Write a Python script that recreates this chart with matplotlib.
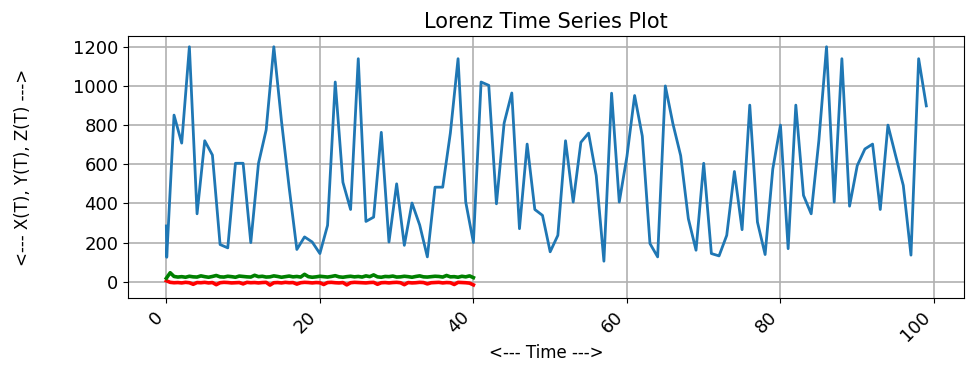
import numpy as np
import matplotlib
matplotlib.use("Agg")
import matplotlib.pyplot as plt

# Blue series (time, value)
blue_t = [0, 0.05] + list(range(1, 100))
blue_v = [285, 125, 851, 708, 1200, 347, 720, 647, 190, 173,
          605, 605, 200, 604, 775, 1200, 820, 480, 165, 229,
          203, 144, 288, 1020, 508, 369, 1139, 308, 330, 763,
          203, 500, 186, 402, 290, 127, 483, 483, 760, 1139,
          407, 200, 1020, 1003, 398, 810, 964, 271, 703, 369,
          339, 153, 237, 720, 407, 712, 759, 542, 105, 963,
          407, 640, 951, 744, 195, 127, 1000, 805, 644, 322,
          161, 605, 144, 132, 237, 563, 266, 902, 305, 139,
          576, 800, 169, 902, 441, 347, 720, 1200, 407, 1139,
          386, 593, 678, 703, 369, 800, 644, 492, 136, 1139, 898]

green_v = [18, 46, 27, 24, 26, 23, 28, 25, 24, 30, 26, 23, 27, 32, 25, 24, 28,
           26, 23, 29, 27, 25, 24, 33, 26, 28, 24, 25, 30, 27, 23, 26, 29, 25,
           27, 24, 38, 26, 23, 25, 28, 26, 24, 27, 31, 25, 23, 26, 28, 25, 27,
           24, 30, 26, 35, 25, 23, 27, 26, 29, 24, 25, 28, 26, 23, 27, 30, 25,
           24, 26, 28, 27, 24, 32, 25, 26, 23, 28, 25, 30, 21]
red_v = [5, -3, -5, -4, -6, -3, -5, -13, -4, -5, -3, -6, -4, -15, -5, -3, -4,
         -6, -5, -4, -11, -3, -5, -4, -6, -4, -3, -17, -5, -4, -6, -3, -5, -4,
         -12, -5, -3, -4, -6, -4, -5, -14, -4, -3, -5, -6, -4, -16, -5, -3, -4,
         -5, -6, -4, -3, -13, -5, -4, -6, -4, -3, -5, -15, -4, -6, -5, -3, -4,
         -11, -5, -4, -3, -6, -4, -5, -14, -3, -4, -5, -7, -16]
rg_t_end = 40

title = "Lorenz Time Series Plot"
xlabel = "<--- Time --->"
ylabel = "<--- X(T), Y(T), Z(T) --->"

fig = plt.figure(figsize=(9.68, 3.68), dpi=100)
ax = fig.add_axes([0.1322, 0.1902, 0.8636, 0.712])

red_t = np.linspace(0, rg_t_end, len(red_v))
green_t = np.linspace(0, rg_t_end, len(green_v))

ax.plot(blue_t, blue_v, color="#1f77b4", lw=2.0)
ax.plot(red_t, red_v, color="red", lw=2.6)
ax.plot(green_t, green_v, color="green", lw=2.6)

ax.set_yticks([0, 200, 400, 600, 800, 1000, 1200])
ax.set_xticks([0, 20, 40, 60, 80, 100])
ax.set_xlim(-5.0, 103.9)
ax.set_ylim(-83, 1255)
ax.grid(True, color="#b0b0b0", lw=1.2)
ax.tick_params(axis="both", labelsize=13)
for lab in ax.get_xticklabels():
    lab.set_rotation(45)
    lab.set_ha("right")
ax.set_title(title, fontsize=15)
ax.set_xlabel(xlabel, fontsize=12)
ax.set_ylabel(ylabel, fontsize=12)
ax.yaxis.set_label_coords(-0.115, 0.5)
ax.xaxis.set_label_coords(0.5, -0.175)

fig.savefig("out.png", dpi=100)
